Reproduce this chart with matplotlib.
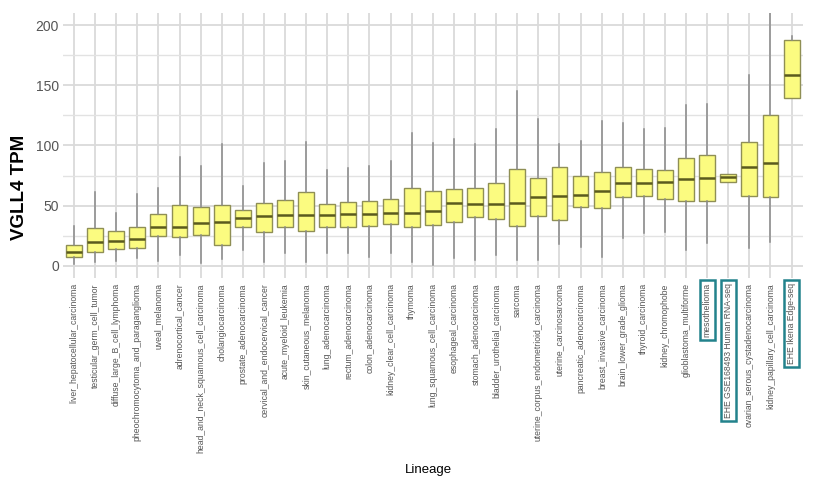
import matplotlib
matplotlib.use("Agg")
import matplotlib.pyplot as plt

plt.rcParams['font.family'] = ['Liberation Sans', 'DejaVu Sans']

categories = [
    "liver_hepatocellular_carcinoma", "testicular_germ_cell_tumor",
    "diffuse_large_B_cell_lymphoma", "pheochromocytoma_and_paraganglioma",
    "uveal_melanoma", "adrenocortical_cancer",
    "head_and_neck_squamous_cell_carcinoma", "cholangiocarcinoma",
    "prostate_adenocarcinoma", "cervical_and_endocervical_cancer",
    "acute_myeloid_leukemia", "skin_cutaneous_melanoma",
    "lung_adenocarcinoma", "rectum_adenocarcinoma", "colon_adenocarcinoma",
    "kidney_clear_cell_carcinoma", "thymoma", "lung_squamous_cell_carcinoma",
    "esophageal_carcinoma", "stomach_adenocarcinoma",
    "bladder_urothelial_carcinoma", "sarcoma",
    "uterine_corpus_endometrioid_carcinoma", "uterine_carcinosarcoma",
    "pancreatic_adenocarcinoma", "breast_invasive_carcinoma",
    "brain_lower_grade_glioma", "thyroid_carcinoma", "kidney_chromophobe",
    "glioblastoma_multiforme", "mesothelioma",
    "EHE GSE168493 Human RNA-seq", "ovarian_serous_cystadenocarcinoma",
    "kidney_papillary_cell_carcinoma", "EHE Ikena Edge-seq",
]

whisker_low = [1, 3.3, 4, 6.4, 4.2, 9.2, 2.5, 5.3, 13, 3.3,
               10.3, 3.3, 10.3, 10.3, 7.5, 10.3, 3.3, 0.6, 6.2, 5,
               8.9, 4.8, 4.8, 18.1, 15.8, 7.5, 23, 27, 28.3, 13.1,
               18.7, 70, 14.5, 20, 139.5]
q1 = [7, 11.7, 13.7, 15, 24.7, 24.2, 25.8, 17.2, 32.3, 28.1,
      32.5, 29.2, 32.5, 32.5, 32.8, 34.5, 32.3, 33.7, 36.7, 40.6,
      38.9, 33.3, 41.7, 37.8, 49.2, 47.8, 57.5, 58.3, 55.8, 54.2,
      54.2, 70, 58.3, 57.5, 139.5]
median = [11.5, 19.5, 20.3, 22.5, 32, 32.5, 35.3, 36.4, 39.5, 41.4,
          42.3, 42.3, 42.5, 42.8, 43.1, 43.7, 43.9, 45.3, 52, 51.7,
          51.7, 52.5, 57, 58.3, 58.9, 62.5, 69, 69.2, 70, 72,
          72.8, 73.7, 82.3, 85.3, 158.9]
q3 = [17.5, 31.7, 28.7, 32.5, 43, 50.8, 48.9, 50.8, 46.4, 52,
      55, 61.2, 51.4, 52.8, 53.9, 55.3, 64.5, 62.5, 64.2, 65,
      68.7, 80.3, 73.3, 81.7, 74.5, 77.8, 82.5, 80.3, 79.5, 90,
      91.7, 76.7, 103.3, 125.6, 187.8]
whisker_high = [33, 61.5, 43.7, 60, 65, 90.3, 83.3, 101.4, 66.4, 85.8,
                87, 103.3, 79.8, 81.2, 83.3, 86.7, 110.8, 102, 105.3, 101.4,
                113.9, 145.6, 122, 101.4, 103.9, 120.8, 118.5, 113.7, 114.5, 133.9,
                134.8, 76.7, 158.9, 225, 190.8]

highlighted = ["mesothelioma", "EHE GSE168493 Human RNA-seq", "EHE Ikena Edge-seq"]
y_ticks = [0, 50, 100, 150, 200]

fig = plt.figure(figsize=(8.18, 4.95), dpi=100)
ax = fig.add_axes([63 / 818, 1 - 277.7 / 495, 740 / 818, 264.4 / 495])

stats = []
for i, name in enumerate(categories):
    stats.append(dict(label=name, whislo=whisker_low[i], q1=q1[i], med=median[i],
                      q3=q3[i], whishi=whisker_high[i], fliers=[]))

positions = list(range(1, len(categories) + 1))
ax.bxp(stats, positions=positions, widths=0.75, patch_artist=True,
       showcaps=False, showfliers=False,
       boxprops=dict(facecolor='#fbfb80', edgecolor='#8f8f55', linewidth=1.0),
       medianprops=dict(color='#5a5a1e', linewidth=1.8),
       whiskerprops=dict(color='#8a8a8a', linewidth=1.1),
       zorder=3)

ax.set_xlim(0.48, len(categories) + 0.54)
ax.set_ylim(-10, 210)
ax.set_yticks(y_ticks)
ax.set_yticks([25, 75, 125, 175], minor=True)
ax.set_xticks(positions)
ax.set_xticklabels(categories, rotation=90, fontsize=6.2, color='#555555', va='top')
ax.tick_params(axis='x', length=0, pad=4)
ax.tick_params(axis='y', length=0, pad=3, labelsize=10, labelcolor='#555555')
ax.tick_params(axis='y', which='minor', length=0)

ax.grid(True, which='major', color='#dadada', linewidth=1.3, zorder=0)
ax.grid(True, which='minor', axis='y', color='#e2e2e2', linewidth=1.0, zorder=0)
ax.set_axisbelow(True)
for s in ax.spines.values():
    s.set_visible(False)

for lbl in ax.get_xticklabels():
    if lbl.get_text() in highlighted:
        lbl.set_bbox(dict(boxstyle='square,pad=0.35', facecolor='none',
                          edgecolor='#23828c', linewidth=1.8))

ax.set_ylabel("VGLL4 TPM", fontsize=13.5, fontweight='bold', color='black')
ax.yaxis.set_label_coords(-0.047, 0.34)
fig.text(428 / 818, 1 - 470 / 495, "Lineage", fontsize=9.5, ha='center', va='center',
         color='black')

fig.savefig("out.png", dpi=100)
